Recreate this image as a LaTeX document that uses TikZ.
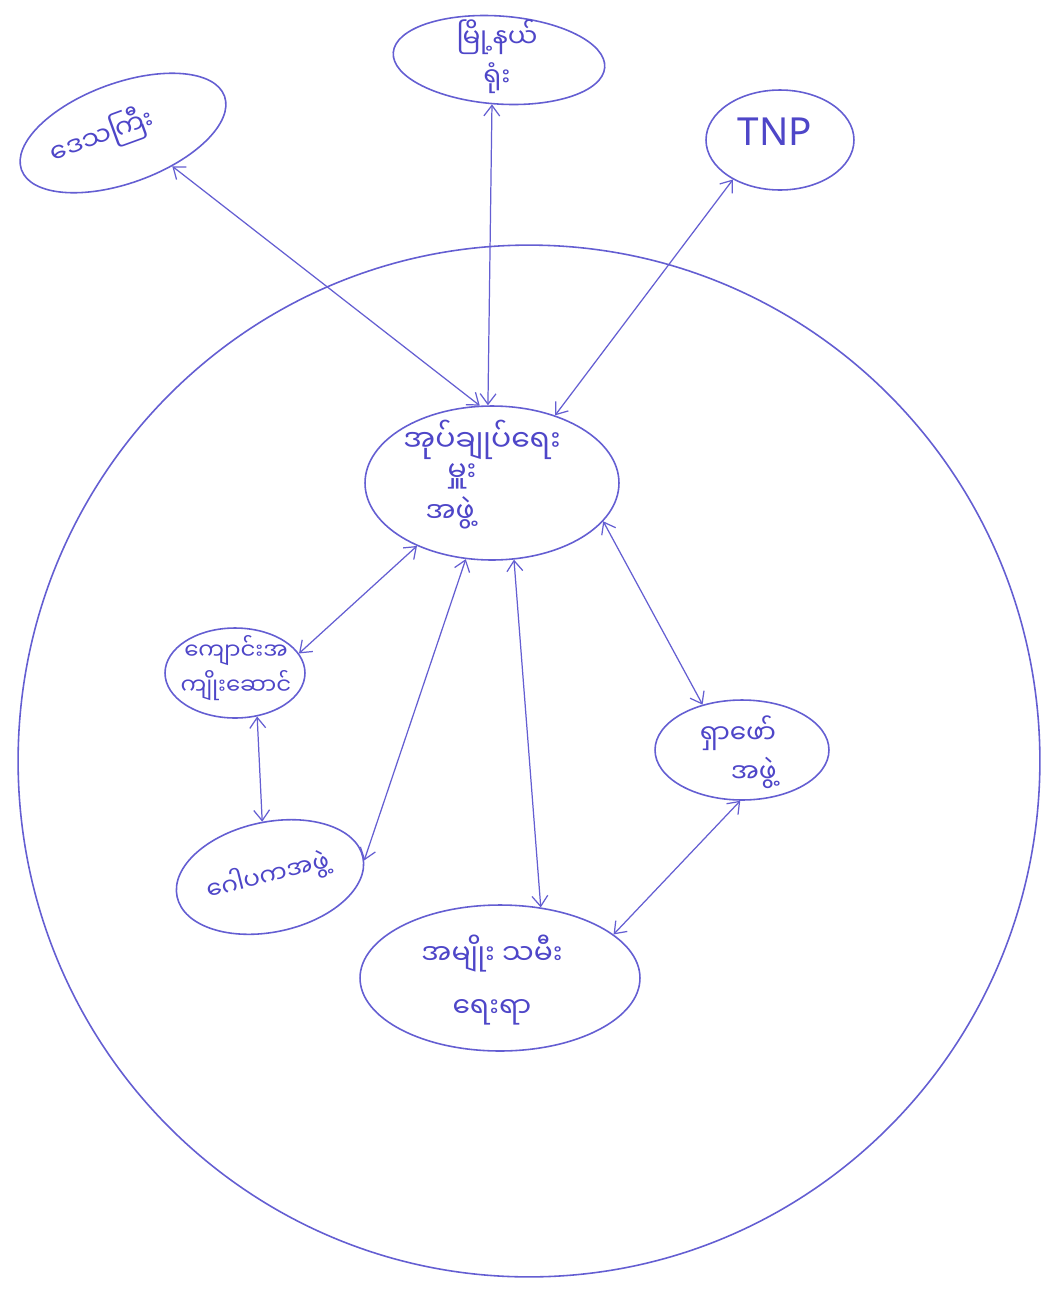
\documentclass[tikz,border=0pt]{standalone}
\usepackage{fontspec}
\newfontfamily\mya[Script=Myanmar]{Noto Sans Myanmar UI}
\newfontfamily\lat{Noto Sans}
\usetikzlibrary{shapes.geometric,arrows.meta}
\definecolor{ink}{RGB}{100,94,210}
\definecolor{txt}{RGB}{78,70,200}
\begin{document}
\begin{tikzpicture}[x=0.02cm,y=-0.02cm,
  bub/.style={draw=ink,line width=0.9pt,ellipse,inner sep=0pt},
  lbl/.style={text=txt,font=\mya\fontsize{15}{22}\selectfont,inner sep=0pt,align=center},
  link/.style={draw=ink,line width=0.7pt,{Straight Barb[length=6pt,width=9pt]}-{Straight Barb[length=6pt,width=9pt]}}]
\useasboundingbox[fill=white] (0,0) rectangle (1046,1289);
\draw[ink,line width=0.9pt] (529,761) ellipse [x radius=10.22cm, y radius=10.32cm];

% bubbles
\node[bub,minimum width=4.32cm,minimum height=2.0cm,rotate=20] (dk) at (123,133) {};
\node[bub,minimum width=4.24cm,minimum height=1.76cm,rotate=-4] (mn) at (499,60) {};
\node[bub,minimum width=2.96cm,minimum height=2.0cm] (tnp) at (780,140) {};
\node[bub,minimum width=5.08cm,minimum height=3.08cm] (main) at (492,483) {};
\node[bub,minimum width=2.8cm,minimum height=1.8cm] (kj) at (235,673) {};
\node[bub,minimum width=3.8cm,minimum height=2.2cm,rotate=12] (gp) at (270,877) {};
\node[bub,minimum width=3.48cm,minimum height=2.0cm] (rf) at (742,750) {};
\node[bub,minimum width=5.6cm,minimum height=2.92cm] (am) at (500,978) {};

% labels
\node[lbl,rotate=20] (tdk) at (102,136) {ဒေသကြီး};
\node[lbl] (tmn) at (497,57) {မြို့နယ်\\ရုံး};
\node[text=txt,font=\lat\fontsize{22}{26}\selectfont,inner sep=0pt] (ttnp) at (775,132) {TNP};
\node[lbl,font=\mya\fontsize{17}{22}\selectfont] (tm1) at (482,440) {အုပ်ချုပ်ရေး};
\node[lbl,font=\mya\fontsize{16}{22}\selectfont] (tm2) at (462,476) {မှူး};
\node[lbl,font=\mya\fontsize{16}{22}\selectfont] (tm3) at (450,513) {အဖွဲ့};
\node[lbl,font=\mya\fontsize{13}{20}\selectfont] (tkj) at (236,668) {ကျောင်းအ\\ကျိုးဆောင်};
\node[lbl,rotate=14,font=\mya\fontsize{14}{20}\selectfont] (tgp) at (268,876) {ဂေါပကအဖွဲ့};
\node[lbl] (trf) at (738,752) {ရှာဖော်\\\hspace*{1.2em}အဖွဲ့};
\node[lbl,font=\mya\fontsize{16}{30}\selectfont] (tam) at (492,980) {အမျိုး သမီး\\ရေးရာ};

% connectors
\draw[link] (dk.-54) -- (main.99);
\draw[link] (mn.-95) -- (main.93);
\draw[link] (tnp.-140) -- (main.47);
\draw[link] (main.-140) -- (kj.17);
\draw[link] (kj.-63) -- (gp.86);
\draw[link] (main.-109) -- (gp.-2);
\draw[link] (main.-74) -- (am.60);
\draw[link] (main.-19) -- (rf.131);
\draw[link] (rf.-92) -- (am.21);
\end{tikzpicture}
\end{document}
